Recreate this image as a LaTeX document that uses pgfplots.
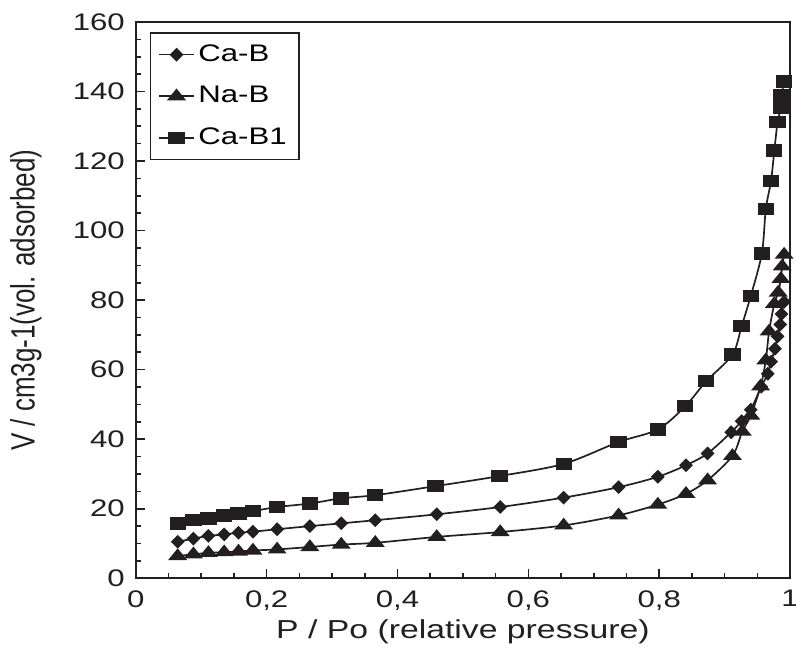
\documentclass[border=0pt]{standalone}
\usepackage{fontspec}
\setmainfont{Liberation Sans}[FakeStretch=1.3]
\newfontfamily\plainsans{Liberation Sans}
\usepackage{pgfplots}
\pgfplotsset{compat=1.18}

\definecolor{ink}{HTML}{231F20}

\begin{document}
\begin{tikzpicture}
\useasboundingbox (-68pt,-35pt) rectangle (330.5pt,289.5pt);
\begin{axis}[
  scale only axis,
  width=327.5pt, height=278.5pt,
  xmin=0, xmax=1, ymin=0, ymax=160,
  clip=false,
  xtick={0,0.2,0.4,0.6,0.8,1},
  xticklabels={0,{0,2},{0,4},{0,6},{0,8},1},
  ytick={0,20,40,60,80,100,120,140,160},
  yticklabels={0,20,40,60,80,100,120,140,160},
  minor x tick num=3, minor y tick num=3,
  xtick pos=bottom, ytick pos=left,
  tick align=inside,
  major tick length=4.5pt, minor tick length=2.5pt,
  every tick/.style={ink, line width=0.8pt},
  axis line style={ink, line width=0.9pt},
  tick label style={font=\fontsize{12}{14}\selectfont, text=ink},
  xticklabel style={yshift=-2.5pt},
  yticklabel style={xshift=-2pt},
  every axis x label/.style={at={(axis description cs:0.5,-0.097)}, anchor=center, font=\fontsize{13}{15}\selectfont, text=ink},
  every axis y label/.style={at={(axis description cs:-0.168,0.5)}, rotate=90, anchor=center, text=ink},
  xlabel={P / Po (relative pressure)},
  ylabel={\scalebox{1}[1.3]{\plainsans\fontsize{13}{15}\selectfont V / cm3g-1(vol. adsorbed)}},
  legend style={at={(axis description cs:0.0214,0.982)}, anchor=north west,
    draw=ink, line width=0.8pt, font=\fontsize{12}{14}\selectfont,
    row sep=7pt, inner sep=4pt},
  legend cell align=left,
]
\addplot[ink, line width=0.85pt, smooth, tension=0.5, mark=diamond*, mark size=2.85pt,
  mark options={xscale=1.33, solid, fill=ink}] coordinates {
  (0.064,10.5) (0.088,11.4) (0.111,12.2) (0.135,12.6) (0.157,13.1) (0.179,13.4)
  (0.216,14.1) (0.266,15.0) (0.314,15.8) (0.366,16.7) (0.460,18.4) (0.557,20.5)
  (0.654,23.2) (0.738,26.2) (0.798,29.2) (0.841,32.5) (0.874,35.9) (0.910,42.0)
  (0.926,45.2) (0.940,48.5) (0.956,55.1) (0.966,58.8) (0.971,62.3) (0.977,66.0)
  (0.981,69.6) (0.985,73.0) (0.987,76.0) (0.991,79.5)
};
\addlegendentry{Ca-B}
\addplot[ink, line width=0.85pt, smooth, tension=0.5, mark=triangle*, mark size=3.2pt,
  mark options={xscale=1.4, solid, fill=ink}] coordinates {
  (0.064,6.4) (0.088,6.9) (0.111,7.3) (0.135,7.5) (0.157,7.7) (0.179,8.0)
  (0.216,8.3) (0.266,9.0) (0.314,9.7) (0.366,10.2) (0.460,11.9) (0.557,13.3)
  (0.654,15.2) (0.738,18.1) (0.798,21.2) (0.841,24.3) (0.874,28.2) (0.912,35.2)
  (0.927,42.2) (0.940,46.8) (0.955,55.2) (0.963,62.7) (0.968,71.0) (0.976,78.9)
  (0.982,82.2) (0.986,86.1) (0.988,89.7) (0.991,93.1)
};
\addlegendentry{Na-B}
\addplot[ink, line width=0.85pt, smooth, tension=0.5, mark=square*, mark size=2.7pt,
  mark options={xscale=1.35, solid, fill=ink}] coordinates {
  (0.064,15.8) (0.088,16.7) (0.111,17.2) (0.135,18.1) (0.157,18.7) (0.179,19.3)
  (0.216,20.5) (0.266,21.5) (0.314,23.0) (0.366,23.9) (0.458,26.5) (0.556,29.4)
  (0.654,32.9) (0.738,39.2) (0.798,42.8) (0.840,49.5) (0.872,56.7) (0.912,64.3)
  (0.926,72.5) (0.940,81.2) (0.957,93.4) (0.963,106.2) (0.971,114.3) (0.976,123.0)
  (0.981,131.2) (0.986,135.2) (0.987,138.8) (0.991,142.9)
};
\addlegendentry{Ca-B1}
\end{axis}
\end{tikzpicture}
\end{document}
